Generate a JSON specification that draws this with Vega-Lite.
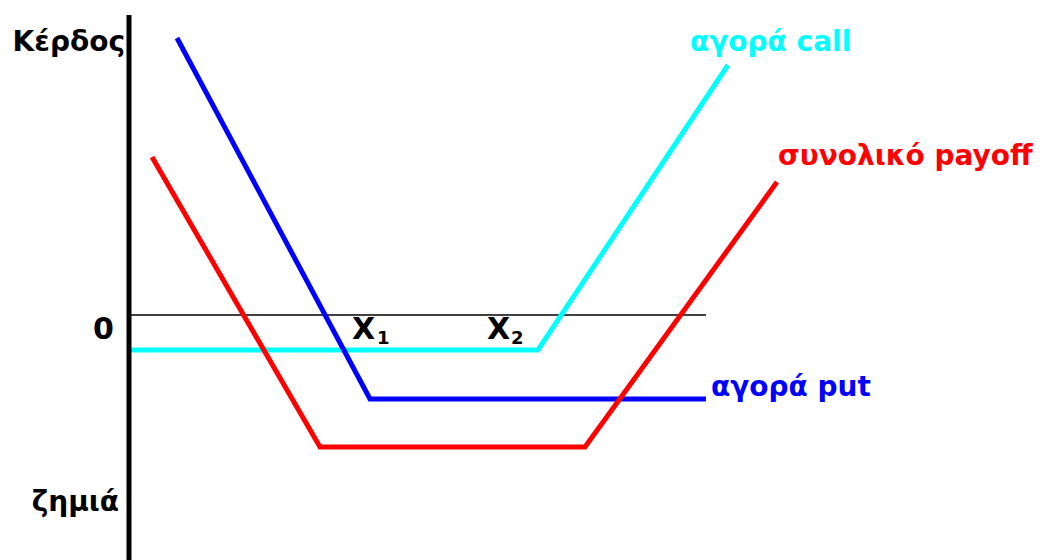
{
  "$schema": "https://vega.github.io/schema/vega-lite/v6.json",
  "width": 1041,
  "height": 560,
  "padding": 0,
  "autosize": {"type": "none"},
  "background": "white",
  "config": {"view": {"stroke": null}},
  "datasets": {
    "lines": [
      {"series": "call", "order": 1, "price": 1, "payoff": -35},
      {"series": "call", "order": 2, "price": 409, "payoff": -35},
      {"series": "call", "order": 3, "price": 599, "payoff": 250},
      {"series": "put", "order": 1, "price": 48, "payoff": 277},
      {"series": "put", "order": 2, "price": 241, "payoff": -84},
      {"series": "put", "order": 3, "price": 577, "payoff": -84},
      {"series": "total", "order": 1, "price": 23, "payoff": 158},
      {"series": "total", "order": 2, "price": 191, "payoff": -132},
      {"series": "total", "order": 3, "price": 456, "payoff": -132},
      {"series": "total", "order": 4, "price": 648, "payoff": 133}
    ],
    "axes": [
      {"line": "zero", "order": 1, "price": 1, "payoff": 0},
      {"line": "zero", "order": 2, "price": 577, "payoff": 0},
      {"line": "vert", "order": 1, "price": 0, "payoff": 300},
      {"line": "vert", "order": 2, "price": 0, "payoff": -245}
    ],
    "labelsRight": [
      {"text": "Κέρδος", "price": -4, "payoff": 272, "series": "axis"},
      {"text": "ζημιά", "price": -10, "payoff": -188, "series": "axis"}
    ],
    "labelsLeft": [
      {"text": "αγορά call", "price": 561, "payoff": 272, "series": "call"},
      {"text": "συνολικό payoff", "price": 649, "payoff": 158, "series": "total"},
      {"text": "αγορά put", "price": 582, "payoff": -73, "series": "put"}
    ],
    "bigMarks": [
      {"text": "0", "price": -36, "payoff": -15, "series": "axis"},
      {"text": "X", "price": 223, "payoff": -15, "series": "axis"},
      {"text": "X", "price": 358, "payoff": -15, "series": "axis"}
    ],
    "subs": [
      {"text": "1", "price": 248, "payoff": -24, "series": "axis"},
      {"text": "2", "price": 382, "payoff": -24, "series": "axis"}
    ]
  },
  "layer": [
    {
      "data": {"name": "axes"},
      "transform": [{"filter": "datum.line === 'zero'"}],
      "mark": {"type": "line", "color": "black", "strokeWidth": 1.5},
      "encoding": {
        "x": {"field": "price", "type": "quantitative", "scale": {"domain": [-129, 912], "nice": false, "zero": false}, "axis": null},
        "y": {"field": "payoff", "type": "quantitative", "scale": {"domain": [-245, 315], "nice": false, "zero": false}, "axis": null},
        "order": {"field": "order"}
      }
    },
    {
      "data": {"name": "lines"},
      "mark": {"type": "line", "strokeWidth": 5},
      "encoding": {
        "x": {"field": "price", "type": "quantitative"},
        "y": {"field": "payoff", "type": "quantitative"},
        "color": {"field": "series", "type": "nominal", "scale": {"domain": ["call", "put", "total", "axis"], "range": ["#00FFFF", "#0000FF", "#FF0000", "#000000"]}, "legend": null},
        "order": {"field": "order"}
      }
    },
    {
      "data": {"name": "axes"},
      "transform": [{"filter": "datum.line === 'vert'"}],
      "mark": {"type": "line", "color": "black", "strokeWidth": 5},
      "encoding": {
        "x": {"field": "price", "type": "quantitative"},
        "y": {"field": "payoff", "type": "quantitative"},
        "order": {"field": "order"}
      }
    },
    {
      "data": {"name": "labelsRight"},
      "mark": {"type": "text", "align": "right", "baseline": "middle", "font": "DejaVu Sans", "fontWeight": "bold", "fontSize": 28},
      "encoding": {
        "x": {"field": "price", "type": "quantitative"},
        "y": {"field": "payoff", "type": "quantitative"},
        "text": {"field": "text"},
        "color": {"field": "series", "type": "nominal", "legend": null}
      }
    },
    {
      "data": {"name": "labelsLeft"},
      "mark": {"type": "text", "align": "left", "baseline": "middle", "font": "DejaVu Sans", "fontWeight": "bold", "fontSize": 28},
      "encoding": {
        "x": {"field": "price", "type": "quantitative"},
        "y": {"field": "payoff", "type": "quantitative"},
        "text": {"field": "text"},
        "color": {"field": "series", "type": "nominal", "legend": null}
      }
    },
    {
      "data": {"name": "bigMarks"},
      "mark": {"type": "text", "align": "left", "baseline": "middle", "font": "DejaVu Sans", "fontWeight": "bold", "fontSize": 30},
      "encoding": {
        "x": {"field": "price", "type": "quantitative"},
        "y": {"field": "payoff", "type": "quantitative"},
        "text": {"field": "text"},
        "color": {"field": "series", "type": "nominal", "legend": null}
      }
    },
    {
      "data": {"name": "subs"},
      "mark": {"type": "text", "align": "left", "baseline": "middle", "font": "DejaVu Sans", "fontWeight": "bold", "fontSize": 18},
      "encoding": {
        "x": {"field": "price", "type": "quantitative"},
        "y": {"field": "payoff", "type": "quantitative"},
        "text": {"field": "text"},
        "color": {"field": "series", "type": "nominal", "legend": null}
      }
    }
  ]
}
